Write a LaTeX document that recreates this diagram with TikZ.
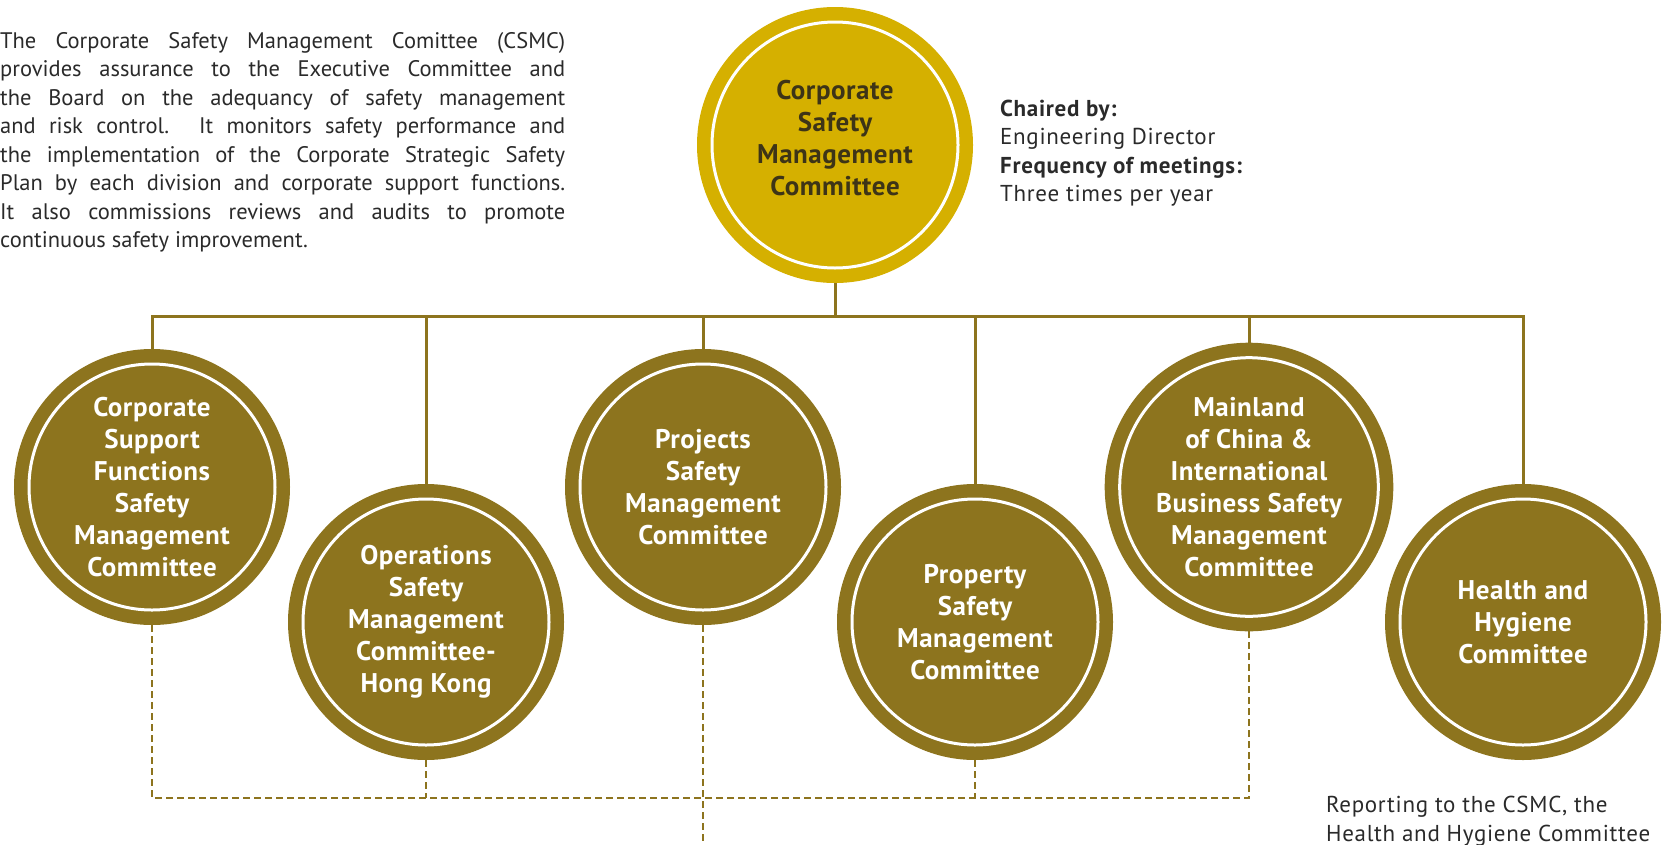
\documentclass[tikz,border=0pt]{standalone}
\usepackage{fontspec}
\setmainfont{PT Sans}
\newfontfamily\discfamily{PT Sans}[LetterSpace=2]
\newfontfamily\sidefamily{PT Sans}[LetterSpace=3]
\definecolor{cmtgold}{HTML}{D5B000}
\definecolor{cmtolive}{HTML}{8D741E}
\definecolor{cmtdark}{HTML}{3D3417}
\definecolor{bodygrey}{HTML}{2A2A2A}
\newcommand{\highrow}{-487}
\newcommand{\lowrow}{-622}
\newcommand{\bodytext}{\fontsize{22.5}{28.5}\selectfont}
\newcommand{\sidetext}{\sidefamily\fontsize{23}{28.5}\selectfont}
\newcommand{\circletext}{\discfamily\fontsize{27}{32}\selectfont\bfseries}
\tikzstyle{disc}=[
  circle,
  minimum size=246pt,
  inner sep=0pt,
  outer sep=15pt,
  draw=white,
  line width=3pt,
  align=center,
  font=\circletext
]
\tikzstyle{committee}=[
  disc,
  fill=cmtolive,
  preaction={draw=cmtolive, line width=30pt},
  text=white
]
\tikzstyle{csmcdisc}=[
  disc,
  fill=cmtgold,
  preaction={draw=cmtgold, line width=30pt}
]
\tikzstyle{link}=[
  draw=cmtolive,
  line width=3pt
]
\tikzstyle{report}=[
  draw=cmtolive,
  line width=2.5pt,
  dash pattern=on 7pt off 4pt
]
\tikzstyle{blurb}=[
  anchor=base west,
  inner sep=0pt,
  font=\bodytext,
  text=bodygrey
]

\begin{document}
\begin{tikzpicture}[x=1pt, y=1pt]
  \useasboundingbox (0,0) rectangle (1663,-844);
  \clip (0,0) rectangle (1663,-844);

  \node[csmcdisc, label={[font=\circletext, text=cmtdark, align=center, yshift=7pt]center:
        Corporate\\Safety\\Management\\Committee}] (csmc) at (835, -145) {};
  \node[committee] (support)    at (152,  \highrow) {Corporate\\Support\\Functions\\Safety\\Management\\Committee};
  \node[committee] (operations) at (426,  \lowrow)  {Operations\\Safety\\Management\\Committee-\\Hong Kong};
  \node[committee] (projects)   at (703,  \highrow) {Projects\\Safety\\Management\\Committee};
  \node[committee] (property)   at (975,  \lowrow)  {Property\\Safety\\Management\\Committee};
  \node[committee] (mainland)   at (1249, \highrow) {Mainland\\of China \&\\International\\Business Safety\\Management\\Committee};
  \node[committee] (hygiene)    at (1523, \lowrow)  {Health and\\Hygiene\\Committee};

  \coordinate (bus) at (0, -316.5);
  \coordinate (reportline) at (0, -798);
  \coordinate (pageend) at (0, -850);

  \foreach \sub in {support, operations, projects, property, mainland, hygiene}
    \draw[link] (csmc.south) -- (csmc.south |- bus) -| (\sub.north);

  \draw[report] (support.south) -- (support.south |- reportline)
                -- (mainland.south |- reportline) -- (mainland.south);
  \draw[report] (operations.south) -- (operations.south |- reportline);
  \draw[report] (property.south) -- (property.south |- reportline);
  \draw[report] (projects.south) -- (projects.south |- pageend);

  \node[blurb, text width=565pt, align=justify] (remit) at (0, -48) {%
    The Corporate Safety Management Comittee (CSMC)\linebreak
    provides assurance to the Executive Committee and\linebreak
    the Board on the adequancy of safety management\linebreak
    and risk control. It monitors safety performance and\linebreak
    the implementation of the Corporate Strategic Safety\linebreak
    Plan by each division and corporate support functions.\linebreak
    It also commissions reviews and audits to promote\linebreak
    continuous safety improvement.};
  \node[blurb, align=left, font=\sidetext] (chair) at (1000, -201.5) {%
    \textbf{Chaired by:}\\Engineering Director\\
    \textbf{Frequency of meetings:}\\Three times per year};
  \node[blurb, align=left, font=\sidetext] (note) at (1326, -841) {%
    Reporting to the CSMC, the\\Health and Hygiene Committee};
\end{tikzpicture}
\end{document}
